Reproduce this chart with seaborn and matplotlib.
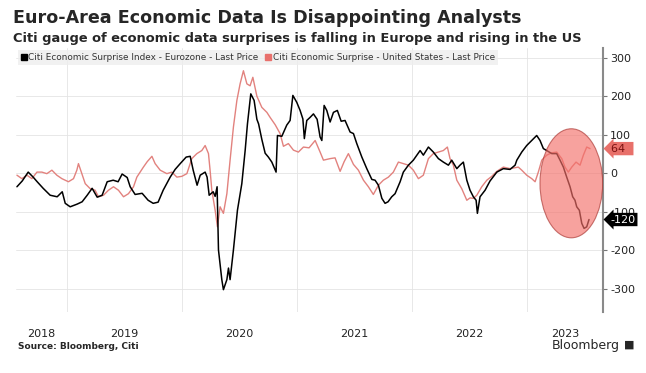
import numpy as np
import pandas as pd
import matplotlib
matplotlib.use("Agg")
import matplotlib.pyplot as plt
import matplotlib.transforms as mtransforms
from matplotlib.patches import Ellipse
from matplotlib.lines import Line2D
import seaborn as sns

# Citi Economic Surprise Index - Eurozone (decimal year, index value)
euro_t = [2018.563, 2018.609, 2018.661, 2018.704, 2018.739, 2018.791, 2018.852, 2018.913, 2018.957, 2018.983,
          2019.026, 2019.087, 2019.130, 2019.174, 2019.217, 2019.261, 2019.304, 2019.348, 2019.400, 2019.443,
          2019.478, 2019.522, 2019.548, 2019.591, 2019.652, 2019.704, 2019.748, 2019.791, 2019.835, 2019.896,
          2019.939, 2019.983, 2020.035, 2020.070, 2020.096, 2020.130, 2020.157, 2020.200, 2020.217, 2020.235,
          2020.270, 2020.287, 2020.304, 2020.316, 2020.345, 2020.359, 2020.389, 2020.403, 2020.417, 2020.446,
          2020.481, 2020.519, 2020.548, 2020.568, 2020.597, 2020.626, 2020.650, 2020.665, 2020.693, 2020.722,
          2020.750, 2020.780, 2020.817, 2020.829, 2020.867, 2020.910, 2020.939, 2020.963, 2020.997, 2021.026,
          2021.050, 2021.063, 2021.084, 2021.113, 2021.142, 2021.174, 2021.200, 2021.215, 2021.235, 2021.258,
          2021.287, 2021.316, 2021.350, 2021.383, 2021.417, 2021.461, 2021.490, 2021.519, 2021.563, 2021.606,
          2021.650, 2021.678, 2021.707, 2021.737, 2021.765, 2021.791, 2021.823, 2021.852, 2021.896, 2021.924,
          2021.968, 2022.011, 2022.070, 2022.098, 2022.142, 2022.185, 2022.229, 2022.272, 2022.316, 2022.345,
          2022.389, 2022.417, 2022.446, 2022.476, 2022.504, 2022.533, 2022.557, 2022.568, 2022.591, 2022.635,
          2022.678, 2022.737, 2022.794, 2022.852, 2022.896, 2022.911, 2022.954, 2022.997, 2023.041, 2023.084,
          2023.113, 2023.142, 2023.171, 2023.215, 2023.258, 2023.287, 2023.316, 2023.345, 2023.374, 2023.397,
          2023.417, 2023.432, 2023.455, 2023.476, 2023.496, 2023.519, 2023.539]
euro_v = [-35, -20, 3, -10, -22, -39, -57, -61, -48, -78,
          -87, -80, -74, -57, -39, -62, -57, -22, -18, -22,
          -2, -11, -35, -55, -52, -70, -78, -75, -44, -10,
          10, 25, 42, 44, 8, -31, -5, 3, -10, -57,
          -48, -60, -35, -199, -276, -302, -276, -246, -276, -199,
          -96, -27, 59, 128, 206, 189, 140, 128, 88, 52,
          42, 29, 3, 98, 96, 125, 137, 202, 184, 163,
          141, 90, 137, 145, 154, 140, 94, 85, 176, 163,
          133, 158, 163, 135, 137, 107, 103, 77, 42, 12,
          -16, -18, -31, -65, -78, -74, -61, -53, -22, 3,
          21, 34, 59, 47, 68, 55, 38, 29, 21, 34,
          12, 21, 29, -18, -44, -61, -70, -104, -61, -44,
          -20, 3, 12, 10, 21, 34, 55, 72, 85, 98,
          85, 64, 59, 51, 51, 34, 16, -10, -35, -61,
          -70, -87, -96, -130, -143, -139, -120]

# Citi Economic Surprise - United States
us_t = [2018.563, 2018.606, 2018.650, 2018.693, 2018.737, 2018.780, 2018.823, 2018.867, 2018.910, 2018.954,
        2019.011, 2019.055, 2019.084, 2019.098, 2019.128, 2019.157, 2019.200, 2019.243, 2019.272, 2019.316,
        2019.359, 2019.403, 2019.446, 2019.490, 2019.533, 2019.577, 2019.606, 2019.663, 2019.696, 2019.737,
        2019.765, 2019.809, 2019.867, 2019.910, 2019.954, 2019.997, 2020.041, 2020.084, 2020.128, 2020.171,
        2020.200, 2020.229, 2020.243, 2020.258, 2020.287, 2020.307, 2020.330, 2020.359, 2020.389, 2020.417,
        2020.446, 2020.476, 2020.504, 2020.533, 2020.563, 2020.591, 2020.615, 2020.650, 2020.693, 2020.737,
        2020.765, 2020.809, 2020.852, 2020.881, 2020.924, 2020.968, 2021.011, 2021.055, 2021.104, 2021.157,
        2021.200, 2021.229, 2021.287, 2021.330, 2021.374, 2021.409, 2021.446, 2021.490, 2021.533, 2021.577,
        2021.620, 2021.663, 2021.707, 2021.750, 2021.794, 2021.837, 2021.881, 2021.924, 2021.968, 2022.011,
        2022.055, 2022.098, 2022.142, 2022.185, 2022.229, 2022.272, 2022.307, 2022.330, 2022.359, 2022.389,
        2022.432, 2022.476, 2022.504, 2022.533, 2022.563, 2022.606, 2022.650, 2022.693, 2022.737, 2022.794,
        2022.852, 2022.924, 2022.954, 2022.997, 2023.041, 2023.070, 2023.098, 2023.128, 2023.171, 2023.215,
        2023.258, 2023.302, 2023.330, 2023.359, 2023.389, 2023.426, 2023.461, 2023.490, 2023.519, 2023.548]
us_v = [-5, -14, -5, -14, 3, 3, -1, 8, -5, -14,
        -22, -14, 8, 25, -1, -27, -40, -44, -61, -57,
        -44, -35, -44, -61, -53, -35, -10, 16, 30, 44,
        25, 8, -1, 3, -10, -8, -1, 38, 51, 59,
        72, 51, 8, -44, -96, -139, -87, -104, -53, 34,
        120, 189, 232, 266, 232, 227, 249, 200, 171, 158,
        145, 126, 103, 70, 77, 60, 55, 68, 66, 85,
        55, 34, 38, 40, 5, 30, 51, 23, 8, -18,
        -35, -55, -31, -18, -10, 3, 29, 25, 21, 8,
        -14, -5, 38, 51, 55, 59, 68, 38, 21, -18,
        -40, -70, -64, -65, -57, -35, -18, -8, 5, 16,
        12, 16, 8, -5, -14, -22, 3, 34, 47, 53,
        55, 38, 16, 3, 16, 29, 21, 47, 68, 64]

years = [2018, 2019, 2020, 2021, 2022, 2023]
yticks = [-300, -200, -100, 0, 100, 200, 300]
labels = ["Citi Economic Surprise Index - Eurozone - Last Price",
          "Citi Economic Surprise - United States - Last Price"]

df_eu = pd.DataFrame({"year": euro_t, "value": euro_v})
df_us = pd.DataFrame({"year": us_t, "value": us_v})

sns.set_style("white")
plt.rcParams["font.family"] = ["DejaVu Sans"]

black = "#000000"
red = "#e2827e"

fig = plt.figure(figsize=(6.46, 3.73), dpi=100)
ax = fig.add_axes([0.0248, 0.1635, 0.9087, 0.7078])

sns.lineplot(data=df_us, x="year", y="value", color=red, lw=1.0, ax=ax,
             estimator=None, sort=False)
sns.lineplot(data=df_eu, x="year", y="value", color=black, lw=1.1, ax=ax,
             estimator=None, sort=False)

# highlight on the recent divergence
ax.add_patch(Ellipse((2023.385, -26), 0.545, 283, facecolor="#f4706a", alpha=0.65,
                     edgecolor="#a83430", lw=0.8, zorder=4))

x0, x1 = 2018.555, 2023.661
ax.set_xlim(x0, x1)
ax.set_ylim(-360, 325)
ax.set_xlabel("")
ax.set_ylabel("")

# gridlines at year boundaries, labels centred in the visible part of each year
ax.set_xticks(years[1:])
ax.set_xticklabels([])
mid = [(max(y, x0) + min(y + 1, x1)) / 2 for y in years]
ax.set_xticks(mid, minor=True)
ax.set_xticklabels([str(y) for y in years], minor=True)
ax.tick_params(axis="x", which="both", length=0)
ax.tick_params(axis="x", which="minor", pad=12, labelsize=8, labelcolor="#222222")

ax.yaxis.tick_right()
ax.set_yticks(yticks)
ax.set_yticklabels([str(v) for v in yticks])
ax.tick_params(axis="y", direction="out", length=3, width=0.8, color="#777777",
               pad=2, labelsize=8, labelcolor="#222222")

ax.grid(True, which="major", color="#e4e4e4", lw=0.6)
for s in ["top", "left", "bottom"]:
    ax.spines[s].set_visible(False)
ax.spines["right"].set_color("#8a8a8a")
ax.spines["right"].set_linewidth(1.5)

handles = [Line2D([], [], marker="s", color=black, ls="none", markersize=4.5),
           Line2D([], [], marker="s", color="#e8706c", ls="none", markersize=4.5)]
leg = ax.legend(handles, labels, loc="upper left", bbox_to_anchor=(0, 1), ncol=2,
                fontsize=6.4, handlelength=0.5, handletextpad=0.25, columnspacing=0.9,
                borderpad=0.35, borderaxespad=0.25, fancybox=False, frameon=True)
leg.get_frame().set_facecolor("#eeeeee")
leg.get_frame().set_edgecolor("none")
for t in leg.get_texts():
    t.set_color("#333333")

# last price tags on the right axis
trans = mtransforms.blended_transform_factory(ax.transAxes, ax.transData)
ax.text(1.013, us_v[-1], f"{us_v[-1]}  ", transform=trans, va="center", ha="left",
        fontsize=8, color="#7a1212", clip_on=False, zorder=6,
        bbox=dict(boxstyle="larrow,pad=0.15", fc="#e8706a", ec="none"))
ax.text(1.013, euro_v[-1], f"{euro_v[-1]}", transform=trans, va="center", ha="left",
        fontsize=8, color="white", clip_on=False, zorder=6,
        bbox=dict(boxstyle="larrow,pad=0.15", fc="black", ec="none"))

fig.text(0.020, 0.952, "Euro-Area Economic Data Is Disappointing Analysts",
         fontsize=12.6, fontweight="bold", va="center")
fig.text(0.020, 0.898, "Citi gauge of economic data surprises is falling in Europe and rising in the US",
         fontsize=9.4, fontweight="bold", va="center")
fig.text(0.028, 0.070, "Source: Bloomberg, Citi", fontsize=6.5, fontweight="bold", va="center")
fig.text(0.960, 0.075, "Bloomberg", fontsize=9, ha="right", va="center")
fig.text(0.966, 0.077, "\u25A0", fontsize=8, ha="left", va="center")

fig.savefig("out.png", dpi=100)
